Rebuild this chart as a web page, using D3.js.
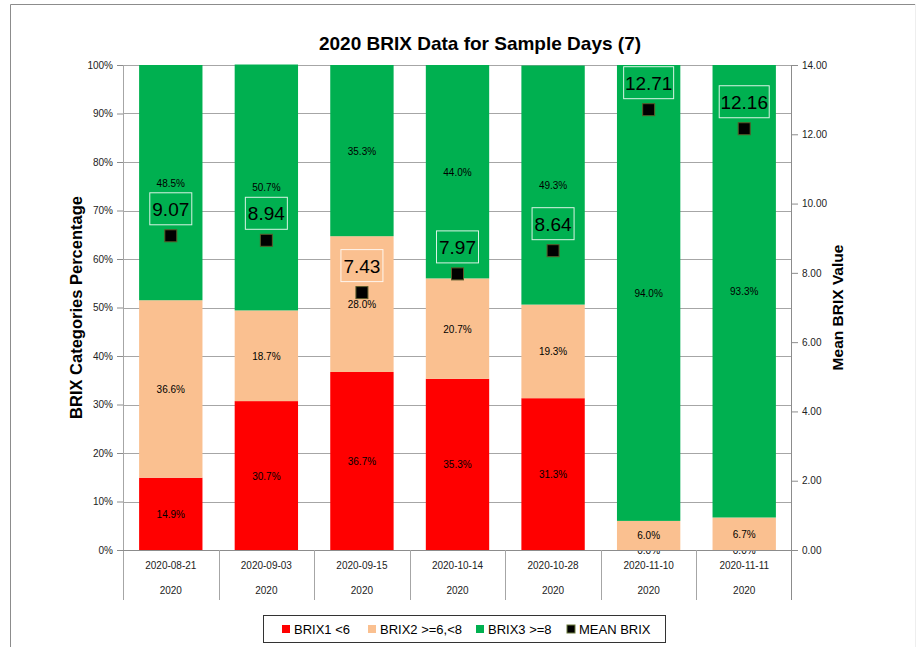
<!DOCTYPE html>
<html>
<head>
<meta charset="utf-8">
<script src="https://cdn.jsdelivr.net/npm/d3@7"></script>
<style>
  body { margin: 0; background: #fff; }
  svg text { font-family: "Liberation Sans", Arial, sans-serif; }
</style>
</head>
<body>
<div class="container"></div>
<script>
// data
var dates = ["2020-08-21", "2020-09-03", "2020-09-15", "2020-10-14", "2020-10-28", "2020-11-10", "2020-11-11"];
var years = ["2020", "2020", "2020", "2020", "2020", "2020", "2020"];
var brix1 = [14.9, 30.7, 36.7, 35.3, 31.3, 0.0, 0.0];
var brix2 = [36.6, 18.7, 28.0, 20.7, 19.3, 6.0, 6.7];
var brix3 = [48.5, 50.7, 35.3, 44.0, 49.3, 94.0, 93.3];
var meanBrix = [9.07, 8.94, 7.43, 7.97, 8.64, 12.71, 12.16];
var seriesNames = ["BRIX1 <6", "BRIX2 >=6,<8", "BRIX3 >=8", "MEAN BRIX"];
var colors = ["#ff0000", "#fac090", "#00b050", "#000000"];
var leftTicks = [0, 10, 20, 30, 40, 50, 60, 70, 80, 90, 100];
var rightTicks = [0, 2, 4, 6, 8, 10, 12, 14];

var W = 921, H = 647;
var margin = {top: 65, right: 129, bottom: 97, left: 123};
var width = W - margin.left - margin.right;
var height = H - margin.top - margin.bottom;

var svg = d3.select(".container").append("svg")
  .attr("width", W).attr("height", H);

// outer frame
svg.append("path")
  .attr("d", "M10.5," + H + "V4.5H915.5V" + H)
  .attr("fill", "none").attr("stroke", "#8c8c8c");
svg.append("line").attr("x1", 915.5).attr("x2", 915.5).attr("y1", 4).attr("y2", H)
  .attr("stroke", "#eeeeee");

svg.append("text")
  .attr("x", 480).attr("y", 50)
  .attr("text-anchor", "middle")
  .style("font-size", "19px").style("font-weight", "bold")
  .text("2020 BRIX Data for Sample Days (7)");

var vis = svg.append("g").attr("transform", "translate(" + margin.left + "," + margin.top + ")");

var x = d3.scaleBand().domain(dates).range([0, width]).paddingInner(0.337).paddingOuter(0.1685);
var y = d3.scaleLinear().domain([0, 100]).range([height, 0]);
var y2 = d3.scaleLinear().domain([0, 14]).range([height, 0]);

// gridlines
vis.append("g").selectAll("line").data(leftTicks.slice(1)).enter().append("line")
  .attr("x1", 0).attr("x2", width)
  .attr("y1", function(d) { return Math.round(y(d)) + 0.5; })
  .attr("y2", function(d) { return Math.round(y(d)) + 0.5; })
  .attr("stroke", "#a6a6a6").attr("stroke-width", 1);

// stacked bars
var rows = dates.map(function(d, i) { return {date: d, b1: brix1[i], b2: brix2[i], b3: brix3[i]}; });
var stack = d3.stack().keys(["b1", "b2", "b3"]);
var layers = stack(rows);

var layerG = vis.selectAll(".layer").data(layers).enter().append("g")
  .attr("fill", function(d, i) { return colors[i]; });

layerG.selectAll("rect").data(function(d) { return d; }).enter().append("rect")
  .attr("x", function(d) { return x(d.data.date); })
  .attr("width", x.bandwidth())
  .attr("y", function(d) { return y(d[1]); })
  .attr("height", function(d) { return y(d[0]) - y(d[1]); });

layerG.selectAll("text").data(function(d) { return d.map(function(p) { p.key = d.key; return p; }); })
  .enter().append("text")
  .attr("x", function(d) { return x(d.data.date) + x.bandwidth() / 2; })
  .attr("y", function(d) { return (y(d[0]) + y(d[1])) / 2 + 4; })
  .attr("text-anchor", "middle")
  .attr("fill", "#000")
  .style("font-size", "10px")
  .text(function(d) { return d.data[d.key].toFixed(1) + "%"; });

// left axis
var leftAxis = vis.append("g")
  .call(d3.axisLeft(y).tickValues(leftTicks).tickSize(6).tickPadding(4)
    .tickFormat(function(d) { return d + "%"; }));
leftAxis.select(".domain").remove();
leftAxis.selectAll("line").attr("stroke", "#8c8c8c");
leftAxis.selectAll("text").style("font-size", "10px").attr("fill", "#222");
vis.append("line").attr("x1", 0.5).attr("x2", 0.5).attr("y1", 0).attr("y2", height + 50)
  .attr("stroke", "#a6a6a6");

// right axis
var rightAxis = vis.append("g").attr("transform", "translate(" + width + ",0)")
  .call(d3.axisRight(y2).tickValues(rightTicks).tickSize(6).tickPadding(4)
    .tickFormat(d3.format(".2f")));
rightAxis.select(".domain").remove();
rightAxis.selectAll("line").attr("stroke", "#8c8c8c");
rightAxis.selectAll("text").style("font-size", "10px").attr("fill", "#222");
vis.append("line").attr("x1", width - 0.5).attr("x2", width - 0.5).attr("y1", 0).attr("y2", height + 50)
  .attr("stroke", "#8c8c8c");

// bottom axis (two-level)
vis.append("line").attr("x1", 0).attr("x2", width)
  .attr("y1", height + 0.5).attr("y2", height + 0.5).attr("stroke", "#8c8c8c");
var step = x.step();
vis.append("g").selectAll("line").data(dates.slice(1)).enter().append("line")
  .attr("x1", function(d) { return Math.round(x(d) - step * x.paddingInner() / 2) + 0.5; })
  .attr("x2", function(d) { return Math.round(x(d) - step * x.paddingInner() / 2) + 0.5; })
  .attr("y1", height).attr("y2", height + 50)
  .attr("stroke", "#a6a6a6");
vis.append("g").selectAll("text").data(dates).enter().append("text")
  .attr("x", function(d) { return x(d) + x.bandwidth() / 2; })
  .attr("y", height + 19)
  .attr("text-anchor", "middle")
  .style("font-size", "10px").attr("fill", "#222")
  .text(function(d) { return d; });
vis.append("g").selectAll("text").data(years).enter().append("text")
  .attr("x", function(d, i) { return x(dates[i]) + x.bandwidth() / 2; })
  .attr("y", height + 44)
  .attr("text-anchor", "middle")
  .style("font-size", "10px").attr("fill", "#222")
  .text(function(d) { return d; });

// axis titles
svg.append("text")
  .attr("transform", "translate(82," + (margin.top + height / 2) + ") rotate(-90)")
  .attr("text-anchor", "middle")
  .style("font-size", "16.5px").style("font-weight", "bold")
  .text("BRIX Categories Percentage");
svg.append("text")
  .attr("transform", "translate(843," + (margin.top + height / 2) + ") rotate(-90)")
  .attr("text-anchor", "middle")
  .style("font-size", "15.5px").style("font-weight", "bold")
  .text("Mean BRIX Value");

// mean markers + labels
var markers = vis.append("g").selectAll("g").data(meanBrix).enter().append("g")
  .attr("transform", function(d, i) {
    return "translate(" + (x(dates[i]) + x.bandwidth() / 2) + "," + y2(d) + ")";
  });
markers.append("rect")
  .attr("x", -6).attr("y", -6).attr("width", 12).attr("height", 12)
  .attr("fill", "#000").attr("stroke", "#5a5a2a").attr("stroke-width", 1);
markers.append("rect")
  .attr("x", function(d) { return d >= 10 ? -25 : -21; })
  .attr("y", -43).attr("width", function(d) { return d >= 10 ? 50 : 42; }).attr("height", 32)
  .attr("fill", "none").attr("stroke", "#ffffff").attr("stroke-opacity", 0.85);
markers.append("text")
  .attr("y", -20)
  .attr("text-anchor", "middle")
  .style("font-size", "19px").attr("fill", "#000")
  .text(function(d) { return d.toFixed(2); });

// legend
var legend = svg.append("g").attr("transform", "translate(263,615)");
legend.append("rect").attr("x", 0.5).attr("y", 0.5).attr("width", 402).attr("height", 27)
  .attr("fill", "#fff").attr("stroke", "#333");
var legendX = [19, 105, 213, 304];
var items = legend.selectAll(".legend-item").data(seriesNames).enter().append("g")
  .attr("class", "legend-item")
  .attr("transform", function(d, i) { return "translate(" + legendX[i] + ",0)"; });
items.append("rect")
  .attr("x", 0).attr("y", 10).attr("width", 8).attr("height", 8)
  .attr("fill", function(d, i) { return colors[i]; })
  .attr("stroke", function(d, i) { return i === 3 ? "#6b7a3a" : "none"; });
items.append("text")
  .attr("x", 12).attr("y", 18.5)
  .style("font-size", "13px").attr("fill", "#000")
  .text(function(d) { return d; });
</script>
</body>
</html>
